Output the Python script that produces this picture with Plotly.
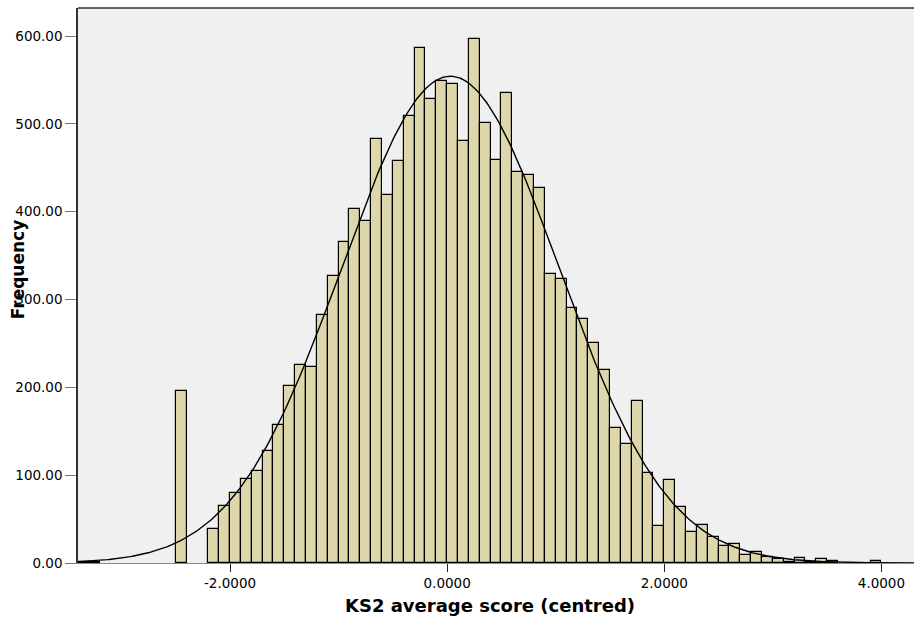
import numpy as np
import plotly.graph_objects as go

# Histogram of centred KS2 average scores (bin width 0.1)
bin_lower = [-3.4, -3.3, -2.5,
             -2.2, -2.1, -2.0, -1.9, -1.8, -1.7, -1.6, -1.5, -1.4, -1.3,
             -1.2, -1.1, -1.0, -0.9, -0.8, -0.7, -0.6, -0.5, -0.4, -0.3,
             -0.2, -0.1, 0.0, 0.1, 0.2, 0.3, 0.4, 0.5, 0.6, 0.7,
             0.8, 0.9, 1.0, 1.1, 1.2, 1.3, 1.4, 1.5, 1.6, 1.7,
             1.8, 1.9, 2.0, 2.1, 2.2, 2.3, 2.4, 2.5, 2.6, 2.7,
             2.8, 2.9, 3.0, 3.1, 3.2, 3.3, 3.4, 3.5, 3.9]
counts = [1, 1, 196,
          39, 65, 80, 96, 105, 127, 157, 202, 225, 223,
          282, 327, 365, 403, 389, 483, 419, 458, 509, 587,
          528, 549, 545, 481, 597, 501, 459, 535, 445, 442,
          427, 329, 323, 290, 278, 250, 220, 154, 135, 185,
          102, 42, 94, 64, 35, 43, 30, 19, 22, 9,
          13, 7, 4, 1, 6, 1, 4, 2, 2]
bin_width = 0.1

x_tick_vals = [-2, 0, 2, 4]
x_tick_text = ["-2.0000", "0.0000", "2.0000", "4.0000"]
y_tick_vals = [0, 100, 200, 300, 400, 500, 600]
y_tick_text = ["0.00", "100.00", "200.00", "300.00", "400.00", "500.00", "600.00"]

x_range = [-3.40, 4.30]
y_range = [0, 632]

lower = np.array(bin_lower)
cnt = np.array(counts, dtype=float)
centres = lower + bin_width / 2

# Normal curve scaled to the histogram
n = cnt.sum()
mean = (centres * cnt).sum() / n
sd = np.sqrt(((centres - mean) ** 2 * cnt).sum() / (n - 1))
xs = np.linspace(x_range[0], x_range[1], 400)
ys = n * bin_width * np.exp(-0.5 * ((xs - mean) / sd) ** 2) / (sd * np.sqrt(2 * np.pi))

fig = go.Figure()
fig.add_trace(go.Bar(
    x=centres, y=cnt, width=bin_width,
    marker=dict(color="#ddd7ab", line=dict(color="#000000", width=1.2)),
    hoverinfo="skip",
))
fig.add_trace(go.Scatter(
    x=xs, y=ys, mode="lines",
    line=dict(color="#000000", width=1.4),
    hoverinfo="skip",
))

fig.update_layout(
    width=914, height=619,
    margin=dict(l=78, r=0, t=8, b=56),
    paper_bgcolor="#ffffff",
    plot_bgcolor="#f0f0f0",
    showlegend=False,
    bargap=0,
    font=dict(family="DejaVu Sans", size=13.5, color="#000000"),
    xaxis=dict(
        range=x_range, showgrid=False, zeroline=False,
        tickmode="array", tickvals=x_tick_vals, ticktext=x_tick_text,
        ticks="outside", ticklen=8, tickcolor="#222222", tickwidth=1,
        showline=True, linecolor="#8a8a8a", linewidth=1,
        tickfont=dict(family="DejaVu Sans", size=13.5),
    ),
    yaxis=dict(
        range=y_range, showgrid=False, zeroline=False,
        tickmode="array", tickvals=y_tick_vals, ticktext=y_tick_text,
        ticks="outside", ticklen=11, tickcolor="#777777", tickwidth=1,
        showline=True, linecolor="#333333", linewidth=1.5,
        tickfont=dict(family="DejaVu Sans", size=13.5),
    ),
    annotations=[
        dict(text="<b>Frequency</b>", textangle=-90,
             xref="paper", yref="paper", x=-0.0725, y=0.53,
             xanchor="center", yanchor="middle", showarrow=False,
             font=dict(family="DejaVu Sans", size=17)),
        dict(text="<b>KS2 average score (centred)</b>",
             xref="paper", yref="paper", x=0.493, y=-0.077,
             xanchor="center", yanchor="middle", showarrow=False,
             font=dict(family="DejaVu Sans", size=18)),
    ],
    shapes=[dict(type="line", xref="paper", yref="paper",
                 x0=0, x1=1, y0=1, y1=1,
                 line=dict(color="#333333", width=1.5))],
)

fig.write_html("out.html")
